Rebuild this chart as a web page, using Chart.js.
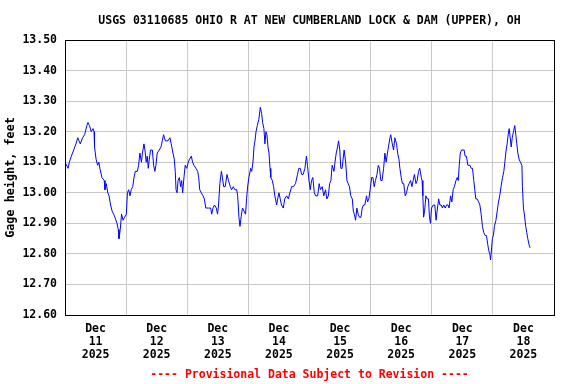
<!DOCTYPE html>
<html>
<head>
<meta charset="utf-8">
<script src="https://cdn.jsdelivr.net/npm/chart.js@4/dist/chart.umd.min.js"></script>
<style>
html, body { margin: 0; padding: 0; background: #fff; }
</style>
</head>
<body>
<canvas id="gageChart" width="576" height="384"></canvas>
<script>
// Hours since Dec 11 2025 00:00
var hours = [
    0.0, 1.2, 1.7, 2.5, 3.4, 4.3, 5.0, 6.0, 6.9, 7.7, 8.6, 9.0, 9.6, 10.3, 11.0, 11.4, 11.6, 12.2, 12.8, 13.3,
    13.7, 14.5, 15.4, 15.7, 16.2, 16.8, 17.3, 17.9, 18.5, 19.1, 19.6, 20.4, 20.9, 21.2, 21.7, 22.2, 22.8, 23.4, 24.1, 24.5,
    25.0, 25.5, 26.0, 26.6, 27.1, 27.6, 28.4, 28.9, 29.4, 30.0, 30.4, 31.0, 31.4, 31.9, 32.3, 32.7, 33.1, 33.6, 34.3, 34.8,
    35.3, 35.7, 36.2, 37.0, 37.7, 38.2, 38.7, 39.4, 40.4, 41.2, 41.7, 42.4, 42.9, 43.3, 43.6, 44.0, 44.4, 44.9, 45.4, 45.8,
    46.2, 46.7, 47.2, 47.8, 48.4, 48.9, 49.6, 50.1, 50.6, 51.4, 52.1, 52.5, 52.9, 53.5, 54.2, 54.7, 55.3, 56.4, 57.2, 57.6,
    58.1, 58.7, 59.4, 59.9, 60.3, 60.8, 61.4, 61.8, 62.3, 62.9, 63.6, 64.2, 64.9, 65.4,
    66.1, 66.7, 67.4, 67.8, 68.3, 68.7, 69.3, 69.7, 70.3, 70.9, 71.3, 71.7, 72.2, 72.9, 73.3, 73.8, 74.2, 74.6, 75.0, 75.5,
    76.1, 76.7, 77.2, 77.6, 78.1, 78.5, 78.9, 79.3, 79.7, 80.1, 80.5, 80.8, 81.4, 81.9, 82.4, 83.1, 83.5, 84.0, 84.5, 85.0,
    85.7, 86.3, 87.0, 87.7, 88.3, 89.0, 89.7, 90.5, 91.3, 91.8, 92.4, 92.9, 93.5, 94.2, 94.8, 95.2, 95.8, 96.3, 96.8, 97.3,
    97.9, 98.4, 99.2, 99.8, 100.3, 101.0, 101.6, 102.3, 102.8, 103.4, 103.9, 104.4, 104.9, 105.6, 106.0, 106.5, 107.0, 107.4, 107.9, 108.3,
    108.8, 109.2, 109.6, 110.2, 110.7, 111.2, 111.7, 112.2, 112.8, 113.2, 113.6, 114.1, 114.6, 115.1, 115.6, 116.2, 116.7, 117.2, 117.7, 118.4,
    118.8, 119.3, 119.8, 120.4, 120.9, 121.4, 121.9, 122.5, 123.0, 123.5, 124.0, 124.5, 125.1, 125.6, 126.1, 126.6, 127.0, 127.6, 127.9, 128.5,
    129.0, 129.4,
    129.5, 130.2, 130.6, 131.1, 131.5, 132.0, 132.5, 133.0, 133.6, 134.1, 134.6, 135.1, 135.7, 136.2, 136.7, 137.2, 137.8, 138.3, 138.8, 139.3,
    139.9, 140.2, 140.5, 140.8, 141.2, 141.7, 142.2, 142.7, 143.1, 143.5, 143.9, 144.6, 145.2, 145.7, 146.1, 146.7, 147.2, 147.7, 148.2, 148.7,
    149.3, 149.8, 150.4, 150.8, 151.4, 151.9, 152.4, 152.9, 153.5, 154.0, 154.4, 154.8, 155.2, 155.7, 156.3, 156.7, 157.1, 157.6, 158.2, 159.0,
    159.5, 160.0, 160.5, 160.9, 161.3, 161.8, 162.4, 162.9, 163.4, 163.9, 164.4, 165.0, 165.5, 166.0, 166.4, 166.8, 167.1, 167.5, 167.8, 168.2,
    168.6, 169.2, 169.7, 170.2, 170.7, 171.2, 171.8, 172.3, 172.7, 173.2, 173.6, 174.0, 174.4, 174.8, 175.2, 175.6, 176.1, 176.6, 177.0, 177.4,
    177.8, 178.3, 178.8, 179.4, 179.6, 180.0, 180.5, 180.9, 181.3, 181.7, 182.2, 182.6
];

// Gage height, feet
var gageHeight = [
    13.10, 13.08, 13.10, 13.12, 13.14, 13.16, 13.18, 13.16, 13.18, 13.19, 13.22, 13.23, 13.22, 13.20, 13.21, 13.20, 13.15, 13.11, 13.09, 13.10,
    13.08, 13.05, 13.04, 13.01, 13.03, 13.00, 12.99, 12.96, 12.94, 12.93, 12.92, 12.90, 12.88, 12.85, 12.88, 12.93, 12.91, 12.92, 12.93, 13.00,
    13.01, 12.99, 13.01, 13.02, 13.05, 13.07, 13.07, 13.09, 13.13, 13.10, 13.13, 13.16, 13.14, 13.10, 13.12, 13.08, 13.11, 13.14, 13.14, 13.09,
    13.07, 13.09, 13.13, 13.14, 13.15, 13.17, 13.19, 13.17, 13.17, 13.18, 13.16, 13.13, 13.11, 13.07, 13.01, 13.00, 13.04, 13.05, 13.02, 13.04,
    13.00, 13.05, 13.09, 13.08, 13.10, 13.11, 13.12, 13.10, 13.09, 13.08, 13.07, 13.05, 13.01, 13.00, 12.99, 12.98, 12.95, 12.95, 12.95, 12.93,
    12.95, 12.96, 12.95, 12.93, 12.96, 13.03, 13.07, 13.05, 13.02, 13.02, 13.06, 13.04, 13.02, 13.01,
    13.02, 13.01, 13.01, 12.99, 12.92, 12.89, 12.93, 12.95, 12.94, 12.93, 12.98, 13.02, 13.05, 13.08, 13.07, 13.10, 13.15, 13.17, 13.20, 13.22,
    13.24, 13.28, 13.26, 13.23, 13.21, 13.16, 13.20, 13.19, 13.15, 13.13, 13.08, 13.05, 13.04, 13.02, 12.99, 12.96, 12.98, 13.00, 12.98, 12.96,
    12.95, 12.98, 12.99, 12.98, 13.00, 13.02, 13.02, 13.03, 13.06, 13.08, 13.08, 13.06, 13.06, 13.08, 13.12, 13.09, 13.04, 13.01, 13.04, 13.05,
    13.00, 12.99, 12.99, 13.03, 13.01, 13.02, 12.99, 13.01, 12.98, 12.99, 13.03, 13.04, 13.09, 13.07, 13.10, 13.13, 13.15, 13.17, 13.14, 13.08,
    13.08, 13.11, 13.14, 13.10, 13.04, 13.03, 13.02, 12.99, 12.98, 12.94, 12.93, 12.91, 12.95, 12.93, 12.92, 12.92, 12.95, 12.96, 12.96, 12.99,
    12.97, 12.98, 13.01, 13.05, 13.05, 13.02, 13.04, 13.06, 13.09, 13.08, 13.04, 13.04, 13.08, 13.13, 13.10, 13.13, 13.15, 13.18, 13.19, 13.16,
    13.14, 13.17,
    13.18, 13.16, 13.13, 13.11, 13.08, 13.05, 13.03, 13.03, 12.99, 13.00, 13.02, 13.03, 13.04, 13.02, 13.04, 13.06, 13.03, 13.04, 13.07, 13.08,
    13.05, 13.04, 12.99, 12.92, 12.94, 12.99, 12.98, 12.98, 12.92, 12.90, 12.95, 12.96, 12.96, 12.91, 12.94, 12.98, 12.96, 12.96, 12.95, 12.96,
    12.95, 12.96, 12.96, 12.95, 12.99, 12.97, 13.01, 13.02, 13.04, 13.05, 13.04, 13.09, 13.13, 13.14, 13.14, 13.14, 13.12, 13.12, 13.09, 13.09,
    13.08, 13.08, 13.04, 13.01, 12.98, 12.98, 12.97, 12.96, 12.93, 12.89, 12.87, 12.86, 12.86, 12.83, 12.81, 12.80, 12.78, 12.82, 12.85, 12.86,
    12.89, 12.91, 12.94, 12.97, 12.99, 13.02, 13.05, 13.07, 13.10, 13.14, 13.16, 13.19, 13.21, 13.18, 13.15, 13.18, 13.20, 13.22, 13.19, 13.16,
    13.13, 13.11, 13.10, 13.09, 13.02, 12.95, 12.92, 12.89, 12.87, 12.85, 12.83, 12.82
];

var xTickHours = [0, 12, 24, 36, 48, 60, 72, 84, 96, 108, 120, 132, 144, 156, 168, 180, 192];
var dayLabels = ['11', '12', '13', '14', '15', '16', '17', '18'];
var yTickValues = [12.6, 12.7, 12.8, 12.9, 13.0, 13.1, 13.2, 13.3, 13.4, 13.5];

var titleText = 'USGS 03110685 OHIO R AT NEW CUMBERLAND LOCK & DAM (UPPER), OH';
var footerText = '---- Provisional Data Subject to Revision ----';

var monoFont = '"DejaVu Sans Mono", "Liberation Mono", monospace';
var gridGray = '#c8c8c8';

/**
 *  Draws the box round the plot, the title and the red note under it.
 */
var framePlugin = {
    id: 'frame',
    afterDraw: function(chart) {
        var ctx = chart.ctx;
        var a = chart.chartArea;
        var cx = (a.left + a.right) / 2;
        ctx.save();
        ctx.strokeStyle = '#000';
        ctx.lineWidth = 1;
        ctx.strokeRect(Math.round(a.left) + 0.5, Math.round(a.top) + 0.5,
            Math.round(a.right - a.left), Math.round(a.bottom - a.top));
        ctx.font = 'bold 11.5px ' + monoFont;
        ctx.textAlign = 'center';
        ctx.textBaseline = 'middle';
        ctx.fillStyle = '#000';
        ctx.fillText(titleText, cx, 21);
        ctx.fillStyle = '#ff0000';
        ctx.fillText(footerText, cx, 375);
        ctx.restore();
    }
};

var points = hours.map(function(h, i) {
    return { x: h, y: gageHeight[i] };
});

new Chart(document.getElementById('gageChart').getContext('2d'), {
    type: 'line',
    data: {
        datasets: [{
            label: 'Gage height',
            data: points,
            borderColor: '#0000ff',
            borderWidth: 1,
            pointRadius: 0,
            tension: 0,
            fill: false
        }]
    },
    options: {
        responsive: false,
        animation: false,
        layout: { padding: { top: 40, right: 22, bottom: 0, left: 0 } },
        plugins: {
            legend: { display: false },
            tooltip: { enabled: false }
        },
        scales: {
            x: {
                type: 'linear',
                min: 0,
                max: 192,
                afterBuildTicks: function(scale) {
                    scale.ticks = xTickHours.map(function(v) { return { value: v }; });
                },
                afterFit: function(scale) { scale.height = 69; },
                grid: {
                    color: function(ctx) {
                        return ctx.tick && ctx.tick.value % 24 === 0 ? gridGray : 'rgba(0,0,0,0)';
                    },
                    lineWidth: 1,
                    drawTicks: false
                },
                border: { display: false },
                ticks: {
                    autoSkip: false,
                    maxRotation: 0,
                    minRotation: 0,
                    padding: 8,
                    color: '#000',
                    font: { family: monoFont, size: 11.5, weight: 'bold', lineHeight: 1.13 },
                    callback: function(value) {
                        if (value % 24 !== 12) return '';
                        return ['Dec', dayLabels[(value - 12) / 24], '2025'];
                    }
                }
            },
            y: {
                min: 12.6,
                max: 13.5,
                afterBuildTicks: function(scale) {
                    scale.ticks = yTickValues.map(function(v) { return { value: v }; });
                },
                afterFit: function(scale) { scale.width = 65; },
                grid: { color: gridGray, lineWidth: 1, drawTicks: false },
                border: { display: false },
                title: {
                    display: true,
                    text: 'Gage height, feet',
                    color: '#000',
                    padding: { top: 4, bottom: 4 },
                    font: { family: monoFont, size: 11.8, weight: 'bold' }
                },
                ticks: {
                    padding: 8,
                    color: '#000',
                    font: { family: monoFont, size: 11.5, weight: 'bold' },
                    callback: function(value) { return Number(value).toFixed(2); }
                }
            }
        }
    },
    plugins: [framePlugin]
});
</script>
</body>
</html>
